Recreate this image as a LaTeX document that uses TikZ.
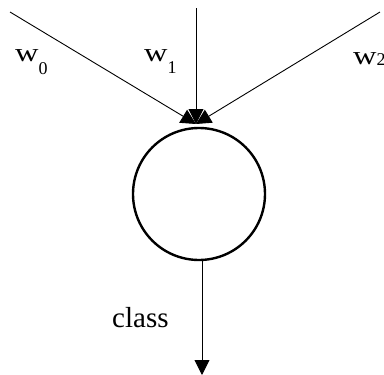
\documentclass[tikz,border=0pt]{standalone}
\usepackage{fontspec}
\setmainfont{Liberation Serif}
\usetikzlibrary{arrows.meta,positioning}
\tikzset{
    neuron/.style={circle, draw=black, line width=2.4pt, minimum size=132pt, inner sep=0pt, outer sep=0pt},
    wire/.style={-{Triangle[length=15pt,width=15pt]}, line width=0.9pt},
    weight/.style={inner sep=0pt, anchor=base west, font=\fontsize{26}{26}\selectfont},
    lbl/.style={inner sep=0pt, anchor=base west, font=\fontsize{29}{29}\selectfont}
}
\newcommand{\wlet}{\scalebox{1.25}[1]{w}}
\newcommand{\wsub}[2]{\raisebox{#1}{\fontsize{18}{18}\selectfont #2}}

\begin{document}
\begin{tikzpicture}[x=1pt, y=-1pt]
    \useasboundingbox (0,0) rectangle (384,375);

    % Unit and where the inputs come in
    \node[neuron] (unit) at (199,194) {};
    \coordinate (tip) at (196,124);
    \coordinate (in0) at (10,12);
    \coordinate (in1) at (196,8);
    \coordinate (in2) at (380,12);
    \coordinate (out) at (202,375);

    % Weights
    \node[weight] (w0) at (15,61) {\wlet\wsub{-13pt}{0}};
    \node[weight] (w1) at (144,61) {\wlet\wsub{-12pt}{1}};
    \node[weight] (w2) at (353,64) {\wlet\wsub{-1pt}{2}};

    % Input arrows
    \draw[wire] (in0) -- (tip);
    \draw[wire] (in1) -- (tip);
    \draw[wire] (in2) -- (tip);

    % Output
    \draw[wire] (unit.south -| out) -- (out);
    \node[lbl] (cls) at (112,327) {class};

\end{tikzpicture}
\end{document}
